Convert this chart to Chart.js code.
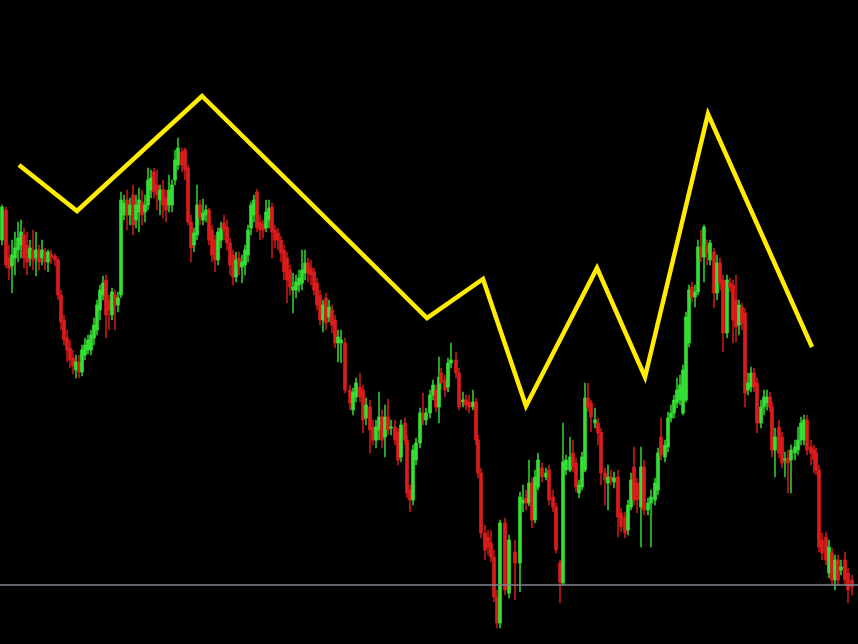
<!DOCTYPE html>
<html>
<head>
<meta charset="utf-8">
<title>Candles with zigzag</title>
<script src="https://cdn.jsdelivr.net/npm/chart.js@4/dist/chart.umd.min.js"></script>
<style>
  html, body { margin: 0; padding: 0; background: #000; }
  .wrap { width: 858px; height: 644px; position: relative; }
</style>
</head>
<body>
<div class="wrap"><canvas id="priceChart"></canvas></div>
<script>
// price levels (screen scale, top = 0)
const times = [
  2,6,9,12,15,18,21,24,27,30,33,36,39,42,45,48,51,55,58,61,64,67,70,73,76,79,82,85,88,91,94,97,100,103,106,109,112,115,118,121,124,127,130,133,136,139,142,145,148,151,154,157,160,163,166,169,
  172,175,178,182,185,188,191,194,197,200,203,206,209,212,215,218,221,224,227,230,233,236,239,242,245,248,251,254,257,260,263,266,269,272,275,278,281,284,287,290,293,296,299,302,305,308,311,314,317,320,323,326,329,332,335,338,
  341,345,350,353,356,360,363,366,370,373,376,379,382,385,388,391,395,398,401,405,407,410,413,416,420,423,426,430,433,436,439,441,445,448,451,456,459,463,466,469,473,476,478,481,485,488,491,494,497,500,505,509,
  515,520,523,526,529,532,535,538,542,546,549,553,556,560,563,566,570,573,576,579,582,585,588,591,595,598,601,605,608,611,614,618,621,625,628,631,634,637,641,644,648,651,655,658,661,665,668,671,674,677,680,
  683,686,689,692,695,698,701,704,707,710,714,717,720,723,727,730,733,736,739,742,745,748,751,754,757,761,764,767,770,772,775,779,782,785,788,791,795,798,801,804,807,811,814,816,819,822,826,829,832,835,838,841,845,848,852
];
const opens = [
  240,210,258,266,258,250,245,235,245,258,250,258,250,258,252,262,254,256,260,295,320,338,348,358,370,362,372,355,350,350,338,330,310,295,280,300,315,295,305,295,215,200,215,195,220,212,202,212,205,190,172,185,200,190,198,205,
  205,180,165,152,150,168,222,245,235,205,220,215,210,230,240,260,240,223,227,243,255,277,258,267,265,255,228,215,192,222,224,228,220,207,230,233,240,250,258,270,290,290,285,283,273,263,268,272,283,295,320,298,317,310,320,343,
  343,343,390,410,397,387,390,418,407,427,440,430,417,437,417,428,427,432,457,423,440,490,500,460,443,413,420,413,395,390,407,373,380,387,363,360,373,402,400,402,407,402,440,473,533,537,543,557,597,623,523,593,
  552,563,503,498,503,483,520,487,468,477,470,497,507,563,583,470,470,453,463,493,487,470,398,403,423,423,432,473,483,477,482,477,513,517,530,507,467,483,507,467,510,503,500,490,437,457,447,418,413,403,400,
  413,400,343,287,297,292,247,257,245,260,252,293,263,280,333,283,285,300,325,307,313,390,387,373,383,423,407,403,397,407,450,427,437,460,458,460,453,450,440,440,420,447,450,453,470,540,537,573,553,580,560,570,560,573,580
];
const closes = [
  207,265,268,255,248,238,232,258,262,248,260,250,262,250,262,252,258,260,295,322,340,350,360,366,362,372,350,345,340,335,325,305,290,283,315,310,292,305,298,200,203,215,205,225,205,200,215,205,180,178,192,195,190,205,210,190,
  185,160,148,165,170,222,248,233,205,217,213,210,240,255,260,232,228,230,243,265,277,260,267,262,250,230,205,200,228,230,230,212,208,232,240,240,253,272,280,287,287,282,278,270,263,273,275,290,305,320,305,323,307,325,343,337,
  340,390,403,392,383,397,420,405,430,440,427,417,440,417,430,427,440,460,425,440,493,500,450,443,413,420,413,395,385,407,377,383,390,363,360,373,407,400,405,407,402,440,473,533,550,547,557,597,623,523,590,540,
  563,497,500,503,483,520,477,460,477,473,500,507,550,582,462,460,457,467,487,485,457,398,407,417,420,433,473,480,477,480,478,517,527,533,505,480,500,500,467,510,503,497,483,453,455,445,418,413,400,390,385,
  370,317,290,297,292,247,257,227,253,243,293,263,283,333,280,287,320,327,305,323,393,383,373,387,423,407,397,397,407,450,437,453,463,459,463,450,447,440,423,420,450,453,460,470,547,553,560,547,580,560,580,567,580,590,587
];
const highs = [
  205,207,245,240,232,222,220,228,232,240,230,232,245,240,248,250,250,254,258,290,315,330,340,350,355,355,345,338,335,330,318,300,285,276,275,295,288,290,292,192,195,190,198,185,195,188,190,195,168,170,168,170,185,180,190,175,
  180,150,138,148,148,165,215,228,185,200,199,205,208,225,235,228,222,215,220,238,250,252,252,255,245,225,202,195,189,215,220,200,200,203,225,228,236,245,252,265,273,275,270,250,250,258,260,268,278,290,300,293,300,305,315,330,
  330,338,385,388,378,373,385,398,400,420,420,392,410,405,399,420,420,428,420,418,435,485,445,438,408,393,408,390,380,385,357,368,375,358,343,352,368,392,395,395,390,398,435,468,525,530,530,550,590,520,518,535,
  540,492,485,490,460,478,470,453,463,468,465,490,503,560,423,455,437,440,458,480,452,383,383,400,408,418,428,468,465,470,472,470,508,512,500,473,447,478,447,460,498,490,478,448,418,440,412,405,395,378,375,
  365,312,285,282,285,240,230,225,240,240,248,255,258,275,275,278,280,275,300,303,308,373,367,368,378,400,390,390,392,402,428,420,432,452,450,445,440,427,417,415,415,440,445,448,465,533,532,540,548,555,555,560,552,568,575
];
const lows = [
  245,268,280,293,275,262,258,268,275,266,270,276,270,265,270,272,264,266,300,330,345,362,368,374,378,378,376,360,354,355,345,335,320,300,338,330,320,330,312,298,220,230,225,235,228,232,225,222,210,198,198,210,215,218,222,212,
  212,185,170,172,180,225,262,252,240,225,225,222,245,262,272,265,248,240,250,275,285,282,275,283,275,262,235,222,232,240,238,232,228,258,248,250,262,280,303,295,313,298,292,290,280,282,285,295,310,325,332,330,322,333,348,362,
  363,393,410,415,402,402,433,425,453,445,448,440,448,457,435,435,445,465,462,445,498,512,505,465,448,425,425,418,400,412,423,390,397,392,368,378,410,407,410,413,410,445,478,538,560,555,562,602,628,628,595,598,
  600,592,512,510,506,528,523,490,482,480,505,512,553,603,585,475,472,472,492,498,490,472,412,432,428,445,485,505,510,485,488,537,532,538,535,510,505,513,547,515,515,547,505,495,460,462,452,422,418,408,405,
  415,402,347,302,307,295,262,282,265,265,308,300,290,352,338,292,343,342,335,330,407,395,392,392,433,428,415,410,412,457,477,458,468,477,493,493,460,455,445,445,455,465,473,475,552,560,565,578,585,590,585,575,585,603,595
];

// zigzag swing points
const zigTimes = [19, 77, 202, 427, 483, 526, 597, 645, 708, 812];
const zigLevels = [165, 211, 96, 318, 279, 406, 268, 377, 114, 347];

// horizontal price level
const levelLine = 585;

const UP = '#34e034', DOWN = '#dc1c1c';
const UP_WICK = '#2cc42c', DOWN_WICK = '#c01818';

const isUp = times.map((t, i) => closes[i] < opens[i]);

const ctx = document.getElementById('priceChart');

new Chart(ctx, {
  type: 'bar',
  data: {
    datasets: [
      {
        type: 'line',
        data: zigTimes.map((t, i) => ({ x: t, y: zigLevels[i] })),
        borderColor: '#ffec00',
        borderWidth: 4.5,
        borderJoinStyle: 'miter',
        pointRadius: 0,
        tension: 0,
        order: 0
      },
      {
        type: 'line',
        data: [{ x: 0, y: levelLine }, { x: 858, y: levelLine }],
        borderColor: '#85858f',
        borderWidth: 1.5,
        pointRadius: 0,
        order: 1
      },
      {
        data: times.map((t, i) => ({ x: t, y: [opens[i], closes[i]] })),
        backgroundColor: isUp.map(u => u ? UP : DOWN),
        barThickness: 3,
        minBarLength: 1,
        grouped: false,
        order: 2
      },
      {
        data: times.map((t, i) => ({ x: t, y: [highs[i], lows[i]] })),
        backgroundColor: isUp.map(u => u ? UP_WICK : DOWN_WICK),
        barThickness: 1,
        grouped: false,
        order: 3
      }
    ]
  },
  options: {
    responsive: true,
    maintainAspectRatio: false,
    animation: false,
    layout: { padding: 0 },
    plugins: {
      legend: { display: false },
      tooltip: { enabled: false }
    },
    scales: {
      x: { type: 'linear', min: 0, max: 858, offset: false, display: false },
      y: { min: 0, max: 644, reverse: true, display: false }
    }
  }
});
</script>
</body>
</html>
